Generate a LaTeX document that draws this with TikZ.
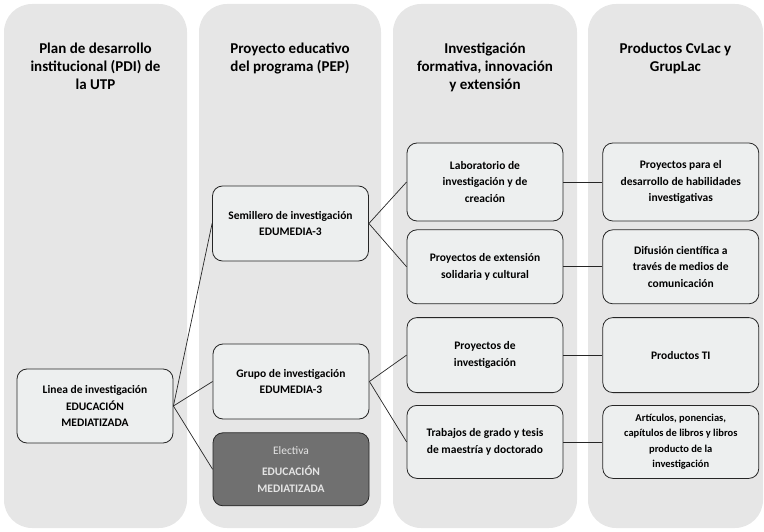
\documentclass[tikz,border=0pt]{standalone}
\usepackage{fontspec}
\setmainfont{Carlito}
\usetikzlibrary{positioning}
\definecolor{lanefill}{HTML}{E6E6E6}
\definecolor{boxfill}{HTML}{EDEFEF}
\definecolor{boxline}{HTML}{262626}
\definecolor{darkbox}{HTML}{707070}
\definecolor{lighttext}{HTML}{E4E4E4}
\tikzset{%
  % columns and their titles
  lane/.style = {
    fill=lanefill,
    rounded corners=28pt,
    minimum height=524pt,
    inner sep=0pt
  },
  head/.style = {
    align=center,
    inner sep=0pt,
    font=\fontsize{15}{18}\selectfont\bfseries
  },
  % boxes inside the columns
  base/.style = {
    draw=boxline,
    line width=0.8pt,
    rounded corners=10pt,
    minimum width=156pt,
    minimum height=75pt,
    inner sep=2pt,
    align=center,
    font=\fontsize{11.5}{16.5}\selectfont\bfseries
  },
  item/.style={base, fill=boxfill},
  elective/.style={base, fill=darkbox, text=lighttext},
  link/.style={draw=boxline, line width=0.7pt},
}

\begin{document}
\begin{tikzpicture}[x=1pt, y=1pt]
  \useasboundingbox (0,0) rectangle (764,-532);
  % columns
  \node (pdi)  [lane, minimum width=183pt] at (95.5,-266) {};
  \node (pep)  [lane, minimum width=182pt] at (290,-266) {};
  \node (inv)  [lane, minimum width=184pt] at (485,-266) {};
  \node (prod) [lane, minimum width=175pt] at (675.5,-266) {};
  \node (pdi_head)  [head, below=39pt of pdi.north]
  {Plan de desarrollo \\ institucional (PDI) de \\ la UTP};
  \node (pep_head)  [head, below=39pt of pep.north]
  {Proyecto educativo \\ del programa (PEP)};
  \node (inv_head)  [head, below=39pt of inv.north]
  {Investigación \\ formativa, innovación \\ y extensión};
  \node (prod_head) [head, below=39pt of prod.north]
  {Productos CvLac y \\ GrupLac};
  % boxes
  \node (linea) [item, minimum height=74pt] at (95,-406)
  {Linea de investigación \\ EDUCACIÓN \\ MEDIATIZADA};
  \node (semillero) [item] at (290.5,-223.5)
  {Semillero de investigación \\ EDUMEDIA-3};
  \node (grupo) [item] at (291,-381.5)
  {Grupo de investigación \\ EDUMEDIA-3};
  \node (electiva) [elective, minimum height=73pt, below=13pt of grupo]
  {{\mdseries Electiva} \\[5pt] EDUCACIÓN \\ MEDIATIZADA};
  \node (lab) [item, minimum height=78pt] at (485,-182)
  {Laboratorio de \\ investigación y de \\ creación};
  \node (extension) [item, minimum height=74pt, below=8pt of lab]
  {Proyectos de extensión \\ solidaria y cultural};
  \node (proy_inv) [item, below=13pt of extension]
  {Proyectos de \\ investigación};
  \node (trabajos) [item, minimum height=73pt, below=12pt of proy_inv]
  {Trabajos de grado y tesis \\ de maestría y doctorado};
  \node (habilidades) [item, minimum height=78pt, right=39pt of lab]
  {Proyectos para el \\ desarrollo de habilidades \\ investigativas};
  \node (difusion) [item, minimum height=74pt, right=39pt of extension]
  {Difusión científica a \\ través de medios de \\ comunicación};
  \node (productos_ti) [item, right=39pt of proy_inv]
  {Productos TI};
  \node (articulos) [item, minimum height=73pt, right=39pt of trabajos,
    font=\fontsize{10.5}{15.5}\selectfont\bfseries]
  {Artículos, ponencias, \\ capítulos de libros y libros \\ producto de la \\ investigación};
  % lines
  \draw[link] (linea.east) -- (semillero.west);
  \draw[link] (linea.east) -- (grupo.west);
  \draw[link] (linea.east) -- (electiva.west);
  \draw[link] (semillero.east) -- (lab.west);
  \draw[link] (semillero.east) -- (extension.west);
  \draw[link] (grupo.east) -- (proy_inv.west);
  \draw[link] (grupo.east) -- (trabajos.west);
  \draw[link] (lab) -- (habilidades);
  \draw[link] (extension) -- (difusion);
  \draw[link] (proy_inv) -- (productos_ti);
  \draw[link] (trabajos) -- (articulos);
\end{tikzpicture}
\end{document}
